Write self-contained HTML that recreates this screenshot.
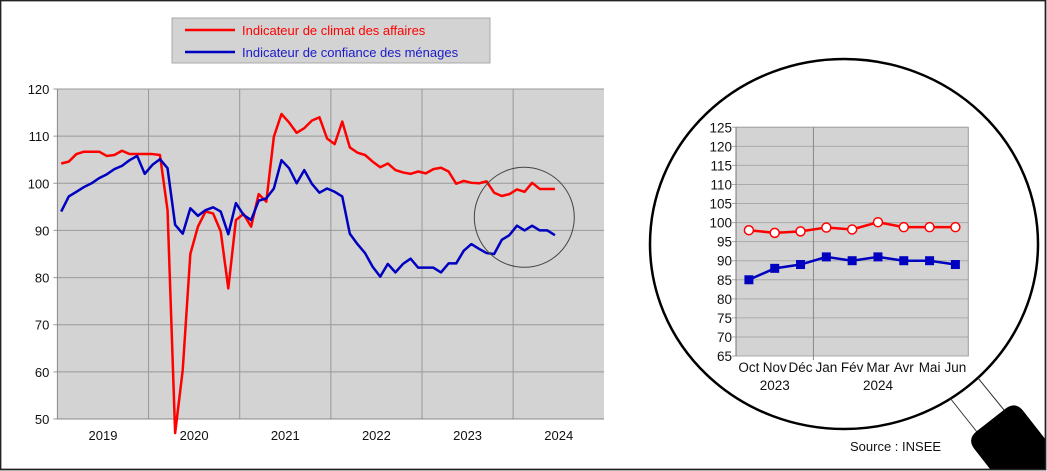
<!DOCTYPE html>
<html><head><meta charset="utf-8"><style>
html,body{margin:0;padding:0;background:#fff;width:1047px;height:471px;overflow:hidden}
svg{display:block;font-family:"Liberation Sans",Arial,sans-serif;overflow:hidden}
</style></head><body>
<svg id="c" width="1047" height="471" viewBox="0 0 1047 471">
<rect x="0.5" y="0.5" width="1045" height="469" fill="#fff" stroke="#222" stroke-width="1.5"/>
<g>
<rect x="172" y="18" width="318" height="45" fill="#d3d3d3" stroke="#aaa"/>
<line x1="185" y1="30" x2="235" y2="30" stroke="#ff0000" stroke-width="2.5"/>
<text x="242" y="35" font-size="13" fill="#ff0000">Indicateur de climat des affaires</text>
<line x1="185" y1="52" x2="235" y2="52" stroke="#0000c0" stroke-width="2.5"/>
<text x="242" y="57" font-size="13" fill="#1a1acc">Indicateur de confiance des ménages</text>
</g>
<g id="main"></g>
<g id="inset"></g>
<ellipse cx="844" cy="244" rx="194" ry="185" fill="none" stroke="#000" stroke-width="2.5"/>
<g>
<line x1="950" y1="398" x2="977" y2="432" stroke="#333" stroke-width="1"/>
<line x1="978" y1="378" x2="1004" y2="410" stroke="#333" stroke-width="1"/>
<path d="M990.8,470 L974.6,449.3 Q966.6,439.1 976.8,431.1 L1005.2,408.9 Q1015.4,400.9 1023.4,411.1 L1046,440 L1046,470 Z" fill="#000"/>
</g>
<rect x="0.5" y="0.5" width="1045" height="469" fill="none" stroke="#222" stroke-width="1.5"/>
<text x="850" y="451" font-size="13" fill="#111">Source : INSEE</text>
</svg>
<script>
// Main chart data: monthly Jan 2019 – Jun 2024
const business = [104.2,104.6,106.2,106.7,106.7,106.7,105.8,106,106.9,106.2,106.2,106.2,
 106.2,106,94.3,47,60.4,85,90.8,94,93.6,89.8,77.7,92.2,
 93.5,90.8,97.7,96.1,109.9,114.7,112.9,110.7,111.7,113.3,114,109.5,
 108.3,113.1,107.6,106.5,106,104.6,103.4,104.2,102.8,102.3,102,102.5,
 102.1,103,103.3,102.5,99.9,100.5,100.1,100,100.4,98,97.3,97.7,
 98.7,98.2,100.1,98.8,98.8,98.8];
const households = [94,97.2,98.2,99.2,100,101.1,101.9,103,103.7,104.9,105.8,102,
 103.9,105.1,103.2,91.2,89.3,94.7,93.1,94.3,94.9,94,89.2,95.8,
 93.3,92.2,96.3,96.8,98.9,104.9,103.2,100,102.8,99.9,98,98.9,
 98.2,97.2,89.3,87.1,85.2,82.3,80.2,82.9,81.1,82.9,84,82.1,
 82.1,82.1,81.1,83,83,85.7,87.1,86.1,85.2,85,88,89,
 91,90,91,90,90,89];
const yearLabels = ["2019","2020","2021","2022","2023","2024"];
const yTicks = [50,60,70,80,90,100,110,120];
// Inset data
const insetMonths = ["Oct","Nov","Déc","Jan","Fév","Mar","Avr","Mai","Jun"];
const insetYears = ["2023","2024"];
const insetBusiness = [98,97.3,97.7,98.7,98.2,100.1,98.8,98.8,98.8];
const insetHouseholds = [85,88,89,91,90,91,90,90,89];
const insetTicks = [65,70,75,80,85,90,95,100,105,110,115,120,125];

const NS="http://www.w3.org/2000/svg";
function mk(p,t,a){const e=document.createElementNS(NS,t);for(const k in a)e.setAttribute(k,a[k]);p.appendChild(e);return e;}

// main
const M=document.getElementById('main');
const L=57.4,R=604,T=89,B=419,mw=(513.3-148.7)/48;
const xM=i=>L+mw*(i+0.5), yM=v=>B-(v-50)*(B-T)/70;
let bg=mk(M,'rect',{x:L,y:T,width:R-L,height:B-T,fill:'#d3d3d3'});


yTicks.forEach(v=>{
 const g=mk(M,'line',{x1:L-4,x2:R,y1:yM(v),y2:yM(v),stroke:'#999','stroke-width':1});
 
 
 const t=mk(M,'text',{x:L-8,y:yM(v)+5,'font-size':13,'text-anchor':'end',fill:'#111'});
 t.textContent=v;
 
 
});
yearLabels.forEach((y,k)=>{
 if(k>0){const l=mk(M,'line',{x1:L+mw*12*k,x2:L+mw*12*k,y1:T,y2:B,stroke:'#999'});
 
 }
 const t=mk(M,'text',{x:L+mw*12*k+mw*6,y:440,'font-size':13,'text-anchor':'middle',fill:'#111'});
 t.textContent=y;
 
 
});
mk(M,'line',{x1:L,x2:L,y1:T,y2:B,stroke:'#888'});
mk(M,'line',{x1:L,x2:R,y1:B,y2:B,stroke:'#888'});
const pb=mk(M,'polyline',{points:business.map((v,i)=>xM(i)+','+yM(v)).join(' '),fill:'none',stroke:'#ff0000','stroke-width':2.5,'stroke-linejoin':'round'});


const ph=mk(M,'polyline',{points:households.map((v,i)=>xM(i)+','+yM(v)).join(' '),fill:'none',stroke:'#0000c0','stroke-width':2.5,'stroke-linejoin':'round'});


const zc=mk(M,'circle',{cx:524.3,cy:217.3,r:50,fill:'none',stroke:'#444','stroke-width':1});



// inset
const I=document.getElementById('inset');
const iL=736,iR=968.3,iT=127.3,iB=356,iw=(iR-iL)/insetMonths.length;
const xI=i=>iL+iw*(i+0.5), yI=v=>iB-(v-65)*(iB-iT)/60;
const ib=mk(I,'rect',{x:iL,y:iT,width:iR-iL,height:iB-iT,fill:'#d3d3d3',stroke:'#999'});


insetTicks.forEach(v=>{
 const g=mk(I,'line',{x1:iL-4,x2:iR,y1:yI(v),y2:yI(v),stroke:'#aaa'});
 
 
 const t=mk(I,'text',{x:iL-4,y:yI(v)+5,'font-size':13.5,'text-anchor':'end',fill:'#111'});
 t.textContent=v;
 
 
});
const dv=mk(I,'line',{x1:iL+iw*3,x2:iL+iw*3,y1:iT,y2:iB+4,stroke:'#888'});


mk(I,'line',{x1:iL,x2:iL,y1:iT,y2:iB,stroke:'#777'});
insetMonths.forEach((m,i)=>{
 const t=mk(I,'text',{x:xI(i),y:372,'font-size':13.5,'text-anchor':'middle',fill:'#111'});
 t.textContent=m;
 
 
});
[[insetYears[0],xI(1)],[insetYears[1],xI(5)]].forEach(([y,x])=>{
 const t=mk(I,'text',{x:x,y:390,'font-size':13.5,'text-anchor':'middle',fill:'#111'});
 t.textContent=y;
 
 
});
const ibl=mk(I,'polyline',{points:insetBusiness.map((v,i)=>xI(i)+','+yI(v)).join(' '),fill:'none',stroke:'#ff0000','stroke-width':2.5});


const ihl=mk(I,'polyline',{points:insetHouseholds.map((v,i)=>xI(i)+','+yI(v)).join(' '),fill:'none',stroke:'#0000c0','stroke-width':2.5});


insetBusiness.forEach((v,i)=>{
 const c=mk(I,'circle',{cx:xI(i),cy:yI(v),r:4.5,fill:'#fff',stroke:'#ff0000','stroke-width':1.5});
 
 
});
insetHouseholds.forEach((v,i)=>{
 const s=mk(I,'rect',{x:xI(i)-4.5,y:yI(v)-4.5,width:9,height:9,fill:'#0000c0'});
 
 
});
</script>
</body></html>
